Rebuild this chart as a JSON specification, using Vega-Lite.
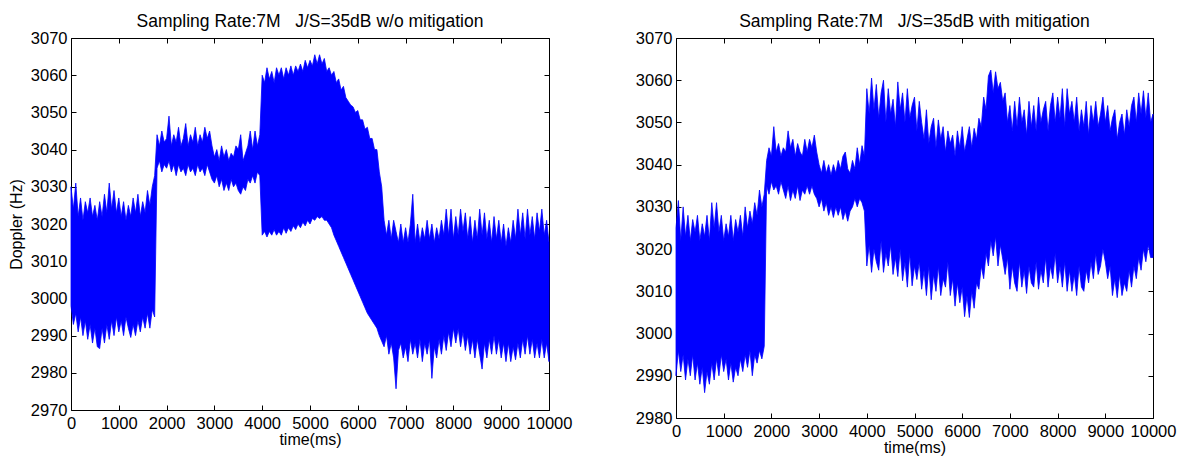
{
  "$schema": "https://vega.github.io/schema/vega-lite/v6.json",
  "background": "white",
  "padding": {"left": 7, "top": 12, "right": 0, "bottom": 0},
  "spacing": 61,
  "config": {
    "font": "Liberation Sans",
    "view": {"stroke": "#000000", "strokeWidth": 1},
    "axis": {
      "grid": false,
      "domain": false,
      "offset": -5,
      "tickColor": "#000000",
      "tickWidth": 1,
      "tickSize": 5,
      "labelColor": "#000000",
      "labelFont": "Liberation Sans",
      "labelFontSize": 16.5,
      "titleFont": "Liberation Sans",
      "titleFontSize": 16,
      "titleFontWeight": "normal",
      "titleColor": "#000000"
    },
    "title": {"font": "Liberation Sans", "fontSize": 17.5, "fontWeight": "normal", "color": "#000000"}
  },
  "datasets": {
    "L": [
      {"t":0,"lo":2998,"hi":3030},{"t":50,"lo":2993,"hi":3024},{"t":100,"lo":2996,"hi":3031},{"t":150,"lo":2991,"hi":3022},{"t":200,"lo":2995,"hi":3027},{"t":250,"lo":2990,"hi":3021},{"t":300,"lo":2994,"hi":3026},{"t":350,"lo":2989,"hi":3023},{"t":400,"lo":2993,"hi":3027},{"t":450,"lo":2988,"hi":3022},{"t":500,"lo":2992,"hi":3025},{"t":550,"lo":2987,"hi":3021},{"t":600,"lo":2986.5,"hi":3026},{"t":650,"lo":2992,"hi":3022},{"t":700,"lo":2988,"hi":3028},{"t":750,"lo":2993,"hi":3023},{"t":800,"lo":2989,"hi":3031},{"t":850,"lo":2994,"hi":3024},{"t":900,"lo":2990,"hi":3029},{"t":950,"lo":2995,"hi":3023},{"t":1000,"lo":2991,"hi":3027},{"t":1050,"lo":2994,"hi":3022},{"t":1100,"lo":2990,"hi":3026},{"t":1150,"lo":2995,"hi":3021},{"t":1200,"lo":2992,"hi":3025},{"t":1250,"lo":2989.5,"hi":3022},{"t":1300,"lo":2993,"hi":3027},{"t":1350,"lo":2990,"hi":3023},{"t":1400,"lo":2994,"hi":3028},{"t":1450,"lo":2991,"hi":3022},{"t":1500,"lo":2995,"hi":3026},{"t":1550,"lo":2992,"hi":3023},{"t":1600,"lo":2996,"hi":3029},{"t":1650,"lo":2992,"hi":3025},{"t":1700,"lo":2997,"hi":3030},{"t":1750,"lo":2995,"hi":3033},
      {"t":1800,"lo":3035,"hi":3044},{"t":1850,"lo":3037,"hi":3041},{"t":1900,"lo":3034,"hi":3045},{"t":1950,"lo":3036,"hi":3042},{"t":2000,"lo":3035,"hi":3043},{"t":2050,"lo":3037,"hi":3049},{"t":2100,"lo":3034,"hi":3041},{"t":2150,"lo":3036,"hi":3044},{"t":2200,"lo":3033,"hi":3042},{"t":2250,"lo":3036,"hi":3046},{"t":2300,"lo":3034,"hi":3041},{"t":2350,"lo":3035,"hi":3043},{"t":2400,"lo":3033,"hi":3047},{"t":2450,"lo":3036,"hi":3041},{"t":2500,"lo":3034,"hi":3044},{"t":2550,"lo":3035,"hi":3042},{"t":2600,"lo":3033,"hi":3046},{"t":2650,"lo":3036,"hi":3041},{"t":2700,"lo":3034,"hi":3044},{"t":2750,"lo":3035,"hi":3042},{"t":2800,"lo":3033,"hi":3046},{"t":2850,"lo":3036,"hi":3043},{"t":2900,"lo":3034,"hi":3045},{"t":2950,"lo":3032,"hi":3041},
      {"t":3000,"lo":3031,"hi":3038},{"t":3050,"lo":3033,"hi":3040},{"t":3100,"lo":3030,"hi":3037},{"t":3150,"lo":3032,"hi":3041},{"t":3200,"lo":3029,"hi":3038},{"t":3250,"lo":3031,"hi":3040},{"t":3300,"lo":3029,"hi":3037},{"t":3350,"lo":3032,"hi":3039},{"t":3400,"lo":3030,"hi":3038},{"t":3450,"lo":3031,"hi":3041},{"t":3500,"lo":3029,"hi":3040},{"t":3550,"lo":3028,"hi":3044},{"t":3600,"lo":3030,"hi":3037},{"t":3650,"lo":3029,"hi":3039},{"t":3700,"lo":3032,"hi":3041},{"t":3750,"lo":3031,"hi":3045},{"t":3800,"lo":3033,"hi":3040},{"t":3850,"lo":3031,"hi":3045},{"t":3900,"lo":3034,"hi":3041},{"t":3950,"lo":3033,"hi":3044},
      {"t":4000,"lo":3017,"hi":3060},{"t":4050,"lo":3018,"hi":3058},{"t":4100,"lo":3016.5,"hi":3062},{"t":4150,"lo":3018,"hi":3059},{"t":4200,"lo":3017,"hi":3061},{"t":4250,"lo":3018.5,"hi":3058},{"t":4300,"lo":3017,"hi":3062},{"t":4350,"lo":3018,"hi":3060},{"t":4400,"lo":3017,"hi":3062},{"t":4450,"lo":3019,"hi":3059},{"t":4500,"lo":3017.5,"hi":3062},{"t":4550,"lo":3019,"hi":3060},{"t":4600,"lo":3018,"hi":3062.5},{"t":4650,"lo":3019.5,"hi":3060},{"t":4700,"lo":3018.5,"hi":3062.5},{"t":4750,"lo":3020,"hi":3061},{"t":4800,"lo":3019,"hi":3063},{"t":4850,"lo":3020.5,"hi":3061},{"t":4900,"lo":3019.5,"hi":3064},{"t":4950,"lo":3021,"hi":3062},{"t":5000,"lo":3020,"hi":3064},{"t":5050,"lo":3021.5,"hi":3062.5},{"t":5100,"lo":3021,"hi":3065.5},{"t":5150,"lo":3022,"hi":3063},{"t":5200,"lo":3021.5,"hi":3065.5},{"t":5250,"lo":3022,"hi":3063},{"t":5300,"lo":3021,"hi":3064.5},{"t":5350,"lo":3021,"hi":3061},{"t":5400,"lo":3020,"hi":3062},{"t":5450,"lo":3019,"hi":3060},{"t":5500,"lo":3017,"hi":3061},{"t":5550,"lo":3015.5,"hi":3058},{"t":5600,"lo":3014,"hi":3059},{"t":5650,"lo":3012.5,"hi":3056},{"t":5700,"lo":3011,"hi":3057},{"t":5750,"lo":3009.5,"hi":3054},{"t":5800,"lo":3008,"hi":3053},{"t":5850,"lo":3006.5,"hi":3052},{"t":5900,"lo":3005,"hi":3051.5},{"t":5950,"lo":3003.5,"hi":3050},{"t":6000,"lo":3002,"hi":3050.5},{"t":6050,"lo":3000.5,"hi":3048},{"t":6100,"lo":2999,"hi":3048},{"t":6150,"lo":2997.5,"hi":3045.5},{"t":6200,"lo":2996,"hi":3046},{"t":6250,"lo":2995,"hi":3043},{"t":6300,"lo":2994,"hi":3043},{"t":6350,"lo":2993,"hi":3040},{"t":6400,"lo":2992,"hi":3040},{"t":6450,"lo":2990,"hi":3034},{"t":6500,"lo":2988.5,"hi":3030},
      {"t":6550,"lo":2987,"hi":3021},{"t":6600,"lo":2990,"hi":3017},{"t":6650,"lo":2985,"hi":3021},{"t":6700,"lo":2988,"hi":3016},{"t":6750,"lo":2984,"hi":3021},{"t":6800,"lo":2975.7,"hi":3018},{"t":6850,"lo":2986,"hi":3015},{"t":6900,"lo":2988,"hi":3020},{"t":6950,"lo":2984,"hi":3015},{"t":7000,"lo":2987,"hi":3019},{"t":7050,"lo":2983,"hi":3015},{"t":7100,"lo":2989,"hi":3020},{"t":7150,"lo":2985,"hi":3028},{"t":7200,"lo":2988,"hi":3015},{"t":7250,"lo":2984,"hi":3020},{"t":7300,"lo":2989,"hi":3015},{"t":7350,"lo":2983,"hi":3019},{"t":7400,"lo":2988,"hi":3016},{"t":7450,"lo":2985,"hi":3021},{"t":7500,"lo":2989,"hi":3016},{"t":7550,"lo":2978.5,"hi":3020},{"t":7600,"lo":2987,"hi":3015},{"t":7650,"lo":2984,"hi":3019},{"t":7700,"lo":2989,"hi":3016},{"t":7750,"lo":2985,"hi":3021},{"t":7800,"lo":2990,"hi":3017},{"t":7850,"lo":2986,"hi":3024},{"t":7900,"lo":2991,"hi":3017},{"t":7950,"lo":2987,"hi":3024},{"t":8000,"lo":2992,"hi":3016},{"t":8050,"lo":2988,"hi":3022},{"t":8100,"lo":2992,"hi":3017},{"t":8150,"lo":2987,"hi":3024},{"t":8200,"lo":2991,"hi":3018},{"t":8250,"lo":2986,"hi":3023},{"t":8300,"lo":2990,"hi":3016},{"t":8350,"lo":2985,"hi":3022},{"t":8400,"lo":2989,"hi":3015},{"t":8450,"lo":2984,"hi":3021},{"t":8500,"lo":2989,"hi":3016},{"t":8550,"lo":2985,"hi":3024},{"t":8600,"lo":2981,"hi":3017},{"t":8650,"lo":2988,"hi":3023},{"t":8700,"lo":2984,"hi":3016},{"t":8750,"lo":2989,"hi":3021},{"t":8800,"lo":2985,"hi":3015},{"t":8850,"lo":2990,"hi":3022},{"t":8900,"lo":2985,"hi":3016},{"t":8950,"lo":2989,"hi":3021},{"t":9000,"lo":2984,"hi":3015},{"t":9050,"lo":2988,"hi":3020},{"t":9100,"lo":2983,"hi":3014},{"t":9150,"lo":2988,"hi":3019},{"t":9200,"lo":2983,"hi":3015},{"t":9250,"lo":2987,"hi":3021},{"t":9300,"lo":2983.5,"hi":3016},{"t":9350,"lo":2988,"hi":3024},{"t":9400,"lo":2984,"hi":3017},{"t":9450,"lo":2989,"hi":3023},{"t":9500,"lo":2985,"hi":3016},{"t":9550,"lo":2990,"hi":3024},{"t":9600,"lo":2985,"hi":3017},{"t":9650,"lo":2989,"hi":3022},{"t":9700,"lo":2984,"hi":3016},{"t":9750,"lo":2988,"hi":3023},{"t":9800,"lo":2984,"hi":3018},{"t":9850,"lo":2989,"hi":3024},{"t":9900,"lo":2984,"hi":3017},{"t":9950,"lo":2988,"hi":3021},{"t":10000,"lo":2983,"hi":3015}
    ],
    "R": [
      {"t":0,"lo":2990,"hi":3025},{"t":50,"lo":2996,"hi":3031.5},{"t":100,"lo":2991,"hi":3022},{"t":150,"lo":2995,"hi":3030},{"t":200,"lo":2989,"hi":3023},{"t":250,"lo":2994,"hi":3028},{"t":300,"lo":2990,"hi":3022},{"t":350,"lo":2995,"hi":3027},{"t":400,"lo":2989,"hi":3024},{"t":450,"lo":2993,"hi":3028},{"t":500,"lo":2988,"hi":3022},{"t":550,"lo":2992,"hi":3026},{"t":600,"lo":2986,"hi":3023},{"t":650,"lo":2991,"hi":3028},{"t":700,"lo":2988,"hi":3022},{"t":750,"lo":2993,"hi":3031},{"t":800,"lo":2989,"hi":3025},{"t":850,"lo":2994,"hi":3031},{"t":900,"lo":2990,"hi":3024},{"t":950,"lo":2995,"hi":3028},{"t":1000,"lo":2991,"hi":3022},{"t":1050,"lo":2994,"hi":3026},{"t":1100,"lo":2989,"hi":3023},{"t":1150,"lo":2993,"hi":3028},{"t":1200,"lo":2988.5,"hi":3022},{"t":1250,"lo":2992,"hi":3027},{"t":1300,"lo":2990,"hi":3024},{"t":1350,"lo":2994,"hi":3028},{"t":1400,"lo":2991,"hi":3023},{"t":1450,"lo":2995,"hi":3030},{"t":1500,"lo":2992,"hi":3025},{"t":1550,"lo":2996,"hi":3029},{"t":1600,"lo":2990,"hi":3026},{"t":1650,"lo":2995,"hi":3031},{"t":1700,"lo":2993,"hi":3028},{"t":1750,"lo":2996,"hi":3034},{"t":1800,"lo":2994,"hi":3030},{"t":1850,"lo":2997,"hi":3033},
      {"t":1900,"lo":3035,"hi":3041},{"t":1950,"lo":3033,"hi":3044},{"t":2000,"lo":3036,"hi":3042},{"t":2050,"lo":3034,"hi":3049},{"t":2100,"lo":3035,"hi":3043},{"t":2150,"lo":3033,"hi":3045},{"t":2200,"lo":3036,"hi":3042},{"t":2250,"lo":3034,"hi":3044},{"t":2300,"lo":3032,"hi":3043},{"t":2350,"lo":3035,"hi":3048},{"t":2400,"lo":3031.5,"hi":3044},{"t":2450,"lo":3034,"hi":3046},{"t":2500,"lo":3032,"hi":3042},{"t":2550,"lo":3035,"hi":3045},{"t":2600,"lo":3031.5,"hi":3043},{"t":2650,"lo":3034,"hi":3042},{"t":2700,"lo":3033,"hi":3046},{"t":2750,"lo":3035,"hi":3043},{"t":2800,"lo":3033,"hi":3046},{"t":2850,"lo":3035,"hi":3044},{"t":2900,"lo":3033,"hi":3047},{"t":2950,"lo":3032,"hi":3043},
      {"t":3000,"lo":3030,"hi":3040},{"t":3050,"lo":3032,"hi":3038},{"t":3100,"lo":3029,"hi":3041},{"t":3150,"lo":3031,"hi":3038},{"t":3200,"lo":3028,"hi":3040},{"t":3250,"lo":3030,"hi":3037.5},{"t":3300,"lo":3027.5,"hi":3040},{"t":3350,"lo":3030,"hi":3038},{"t":3400,"lo":3028,"hi":3041},{"t":3450,"lo":3030,"hi":3039},{"t":3500,"lo":3027,"hi":3042},{"t":3550,"lo":3029,"hi":3043},{"t":3600,"lo":3026.6,"hi":3039},{"t":3650,"lo":3029,"hi":3038},{"t":3700,"lo":3030,"hi":3041},{"t":3750,"lo":3032,"hi":3039},{"t":3800,"lo":3030,"hi":3044},{"t":3850,"lo":3032,"hi":3040},{"t":3900,"lo":3031,"hi":3044.5},{"t":3950,"lo":3029,"hi":3042},
      {"t":4000,"lo":3016,"hi":3058},{"t":4050,"lo":3021,"hi":3052},{"t":4100,"lo":3014.5,"hi":3060.5},{"t":4150,"lo":3020,"hi":3053},{"t":4200,"lo":3017,"hi":3059},{"t":4250,"lo":3015,"hi":3051},{"t":4300,"lo":3022,"hi":3057},{"t":4350,"lo":3014.5,"hi":3060},{"t":4400,"lo":3019,"hi":3050},{"t":4450,"lo":3016,"hi":3058},{"t":4500,"lo":3021,"hi":3052},{"t":4550,"lo":3014,"hi":3055.5},{"t":4600,"lo":3018,"hi":3049},{"t":4650,"lo":3013.5,"hi":3059.6},{"t":4700,"lo":3020,"hi":3053},{"t":4750,"lo":3012.5,"hi":3057},{"t":4800,"lo":3017,"hi":3050},{"t":4850,"lo":3011,"hi":3058},{"t":4900,"lo":3019,"hi":3051},{"t":4950,"lo":3011.3,"hi":3054},{"t":5000,"lo":3016,"hi":3056},{"t":5050,"lo":3012.8,"hi":3048},{"t":5100,"lo":3017,"hi":3055},{"t":5150,"lo":3010.5,"hi":3050},{"t":5200,"lo":3015,"hi":3046},{"t":5250,"lo":3009,"hi":3053},{"t":5300,"lo":3016,"hi":3045},{"t":5350,"lo":3008,"hi":3049},{"t":5400,"lo":3014,"hi":3051},{"t":5450,"lo":3010,"hi":3044},{"t":5500,"lo":3016,"hi":3050.6},{"t":5550,"lo":3009,"hi":3046},{"t":5600,"lo":3013,"hi":3049},{"t":5650,"lo":3011,"hi":3043},{"t":5700,"lo":3017,"hi":3048},{"t":5750,"lo":3009,"hi":3045},{"t":5800,"lo":3013,"hi":3047},{"t":5850,"lo":3006.5,"hi":3042},{"t":5900,"lo":3012,"hi":3048},{"t":5950,"lo":3007.3,"hi":3044},{"t":6000,"lo":3011,"hi":3049},{"t":6050,"lo":3004,"hi":3043},{"t":6100,"lo":3009,"hi":3046},{"t":6150,"lo":3003.8,"hi":3049},{"t":6200,"lo":3010,"hi":3044},{"t":6250,"lo":3006,"hi":3048.6},{"t":6300,"lo":3012,"hi":3046},{"t":6350,"lo":3010.5,"hi":3051},{"t":6400,"lo":3016,"hi":3049},{"t":6450,"lo":3013,"hi":3056},{"t":6500,"lo":3019,"hi":3053},{"t":6550,"lo":3016,"hi":3061},{"t":6600,"lo":3022,"hi":3062.4},{"t":6650,"lo":3018.4,"hi":3057},{"t":6700,"lo":3023,"hi":3062},{"t":6750,"lo":3016,"hi":3058},{"t":6800,"lo":3021,"hi":3059.5},{"t":6850,"lo":3017.6,"hi":3055},{"t":6900,"lo":3014,"hi":3057},{"t":6950,"lo":3018,"hi":3050},{"t":7000,"lo":3010.5,"hi":3054},{"t":7050,"lo":3016,"hi":3048},{"t":7100,"lo":3012,"hi":3055},{"t":7150,"lo":3010,"hi":3049},{"t":7200,"lo":3017,"hi":3056},{"t":7250,"lo":3011,"hi":3050},{"t":7300,"lo":3015,"hi":3053},{"t":7350,"lo":3009.5,"hi":3047},{"t":7400,"lo":3016,"hi":3055},{"t":7450,"lo":3012,"hi":3049},{"t":7500,"lo":3011,"hi":3054},{"t":7550,"lo":3017,"hi":3048},{"t":7600,"lo":3010.5,"hi":3056},{"t":7650,"lo":3015,"hi":3050},{"t":7700,"lo":3012,"hi":3053},{"t":7750,"lo":3018,"hi":3055},{"t":7800,"lo":3011,"hi":3048},{"t":7850,"lo":3016,"hi":3054},{"t":7900,"lo":3013,"hi":3057},{"t":7950,"lo":3019,"hi":3050},{"t":8000,"lo":3012,"hi":3056},{"t":8050,"lo":3016,"hi":3051},{"t":8100,"lo":3011,"hi":3058},{"t":8150,"lo":3017,"hi":3049},{"t":8200,"lo":3010,"hi":3058},{"t":8250,"lo":3015,"hi":3052},{"t":8300,"lo":3010,"hi":3055},{"t":8350,"lo":3014,"hi":3050},{"t":8400,"lo":3009,"hi":3056},{"t":8450,"lo":3016,"hi":3048},{"t":8500,"lo":3011,"hi":3053},{"t":8550,"lo":3010,"hi":3049},{"t":8600,"lo":3015,"hi":3055},{"t":8650,"lo":3012,"hi":3047},{"t":8700,"lo":3017,"hi":3054},{"t":8750,"lo":3013,"hi":3050},{"t":8800,"lo":3019,"hi":3055},{"t":8850,"lo":3014,"hi":3049},{"t":8900,"lo":3016,"hi":3052},{"t":8950,"lo":3020,"hi":3056},{"t":9000,"lo":3017,"hi":3050},{"t":9050,"lo":3013,"hi":3054},{"t":9100,"lo":3016,"hi":3048},{"t":9150,"lo":3009,"hi":3051},{"t":9200,"lo":3013,"hi":3053},{"t":9250,"lo":3008.5,"hi":3046},{"t":9300,"lo":3014,"hi":3050},{"t":9350,"lo":3009,"hi":3052},{"t":9400,"lo":3012,"hi":3047},{"t":9450,"lo":3010,"hi":3053},{"t":9500,"lo":3015,"hi":3049},{"t":9550,"lo":3011,"hi":3054},{"t":9600,"lo":3016,"hi":3056},{"t":9650,"lo":3013,"hi":3050},{"t":9700,"lo":3018,"hi":3057},{"t":9750,"lo":3015,"hi":3052},{"t":9800,"lo":3020,"hi":3057.5},{"t":9850,"lo":3017,"hi":3051},{"t":9900,"lo":3021,"hi":3057},{"t":9950,"lo":3018,"hi":3050},{"t":10000,"lo":3018,"hi":3052}
    ]
  },
  "hconcat": [
    {
      "width": 478,
      "height": 372,
      "title": {"text": "Sampling Rate:7M\u00a0\u00a0\u00a0J/S=35dB w/o mitigation", "offset": 0},
      "data": {"name": "L"},
      "layer": [
        {
          "mark": {"type": "area", "color": "#0000ff", "stroke": "#0000ff", "strokeWidth": 0.8},
          "encoding": {
            "x": {"field": "t", "type": "quantitative", "scale": {"domain": [0, 10000], "nice": false}, "axis": {"orient": "bottom", "values": [0,1000,2000,3000,4000,5000,6000,7000,8000,9000,10000], "format": "d", "labelPadding": 5, "title": "time(ms)", "titlePadding": 0, "labelFlush": false, "labelOverlap": false}},
            "y": {"field": "lo", "type": "quantitative", "scale": {"domain": [2970, 3070], "nice": false, "zero": false}, "axis": {"orient": "left", "values": [2970,2980,2990,3000,3010,3020,3030,3040,3050,3060,3070], "format": "d", "labelPadding": 4, "title": "Doppler (Hz)", "titlePadding": 6, "labelOverlap": false}},
            "y2": {"field": "hi"}
          }
        },
        {
          "mark": {"type": "area", "opacity": 0},
          "encoding": {
            "x": {"field": "t", "type": "quantitative", "axis": {"orient": "top", "values": [0,1000,2000,3000,4000,5000,6000,7000,8000,9000,10000], "labels": false, "title": null}},
            "y": {"field": "lo", "type": "quantitative", "axis": {"orient": "right", "values": [2970,2980,2990,3000,3010,3020,3030,3040,3050,3060,3070], "labels": false, "title": null}},
            "y2": {"field": "hi"}
          }
        }
      ],
      "resolve": {"axis": {"x": "independent", "y": "independent"}}
    },
    {
      "width": 477,
      "height": 380,
      "title": {"text": "Sampling Rate:7M\u00a0\u00a0\u00a0J/S=35dB with mitigation", "offset": 0},
      "data": {"name": "R"},
      "layer": [
        {
          "mark": {"type": "area", "color": "#0000ff", "stroke": "#0000ff", "strokeWidth": 0.8},
          "encoding": {
            "x": {"field": "t", "type": "quantitative", "scale": {"domain": [0, 10000], "nice": false}, "axis": {"orient": "bottom", "values": [0,1000,2000,3000,4000,5000,6000,7000,8000,9000,10000], "format": "d", "labelPadding": 5, "title": "time(ms)", "titlePadding": 0, "labelFlush": false, "labelOverlap": false}},
            "y": {"field": "lo", "type": "quantitative", "scale": {"domain": [2980, 3070], "nice": false, "zero": false}, "axis": {"orient": "left", "values": [2980,2990,3000,3010,3020,3030,3040,3050,3060,3070], "format": "d", "labelPadding": 4, "title": null, "labelOverlap": false}},
            "y2": {"field": "hi"}
          }
        },
        {
          "mark": {"type": "area", "opacity": 0},
          "encoding": {
            "x": {"field": "t", "type": "quantitative", "axis": {"orient": "top", "values": [0,1000,2000,3000,4000,5000,6000,7000,8000,9000,10000], "labels": false, "title": null}},
            "y": {"field": "lo", "type": "quantitative", "axis": {"orient": "right", "values": [2980,2990,3000,3010,3020,3030,3040,3050,3060,3070], "labels": false, "title": null}},
            "y2": {"field": "hi"}
          }
        }
      ],
      "resolve": {"axis": {"x": "independent", "y": "independent"}}
    }
  ]
}
